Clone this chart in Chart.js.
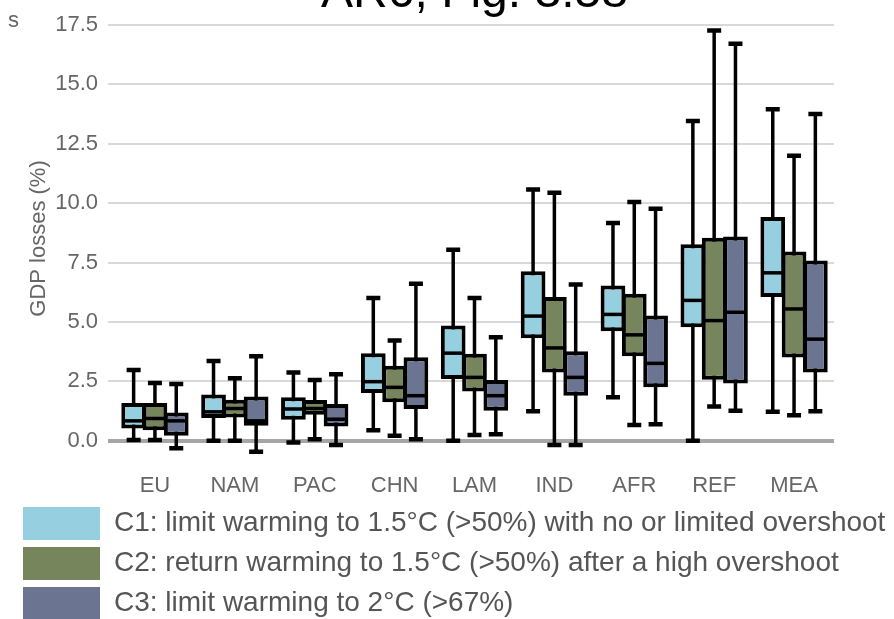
<!DOCTYPE html>
<html>
<head>
<meta charset="utf-8">
<title>GDP losses by region</title>
<script src="https://cdn.jsdelivr.net/npm/chart.js@4.4.0/dist/chart.umd.min.js"></script>
<style>
  html, body { margin: 0; padding: 0; background: #fff; overflow: hidden; }
  #wrap { position: relative; width: 894px; height: 630px; }
</style>
</head>
<body>
<div id="wrap"><canvas id="boxChart" width="894" height="630"></canvas></div>
<script>
var regions = ['EU', 'NAM', 'PAC', 'CHN', 'LAM', 'IND', 'AFR', 'REF', 'MEA'];
var yTicks = [0, 2.5, 5, 7.5, 10, 12.5, 15, 17.5];

var seriesNames = [
    'C1: limit warming to 1.5°C (>50%) with no or limited overshoot',
    'C2: return warming to 1.5°C (>50%) after a high overshoot',
    'C3: limit warming to 2°C (>67%)'
];
var seriesColors = ['#96cfdf', '#76855b', '#6b7592'];

// C1
var c1Min = [0.03, 0.0, -0.07, 0.45, 0.0, 1.24, 1.83, 0.0, 1.22];
var c1Q1  = [0.52, 0.96, 0.89, 2.01, 2.60, 4.32, 4.61, 4.78, 6.05];
var c1Med = [0.84, 1.22, 1.34, 2.49, 3.69, 5.25, 5.32, 5.91, 7.07];
var c1Q3  = [1.59, 1.95, 1.83, 3.69, 4.85, 7.14, 6.54, 8.27, 9.42];
var c1Max = [2.98, 3.36, 2.88, 6.01, 8.04, 10.58, 9.17, 13.46, 13.95];

// C2
var c2Min = [0.03, 0.0, 0.07, 0.21, 0.25, -0.18, 0.67, 1.45, 1.08];
var c2Q1  = [0.45, 0.98, 1.10, 1.62, 2.08, 2.88, 3.56, 2.57, 3.51];
var c2Med = [0.94, 1.36, 1.36, 2.25, 2.67, 3.91, 4.46, 5.06, 5.55];
var c2Q3  = [1.59, 1.73, 1.72, 3.16, 3.66, 6.05, 6.19, 8.55, 7.97];
var c2Max = [2.43, 2.63, 2.56, 4.22, 6.01, 10.44, 10.05, 17.27, 12.0];

// C3
var c3Min = [-0.31, -0.46, -0.18, 0.07, 0.28, -0.18, 0.70, 1.27, 1.24];
var c3Q1  = [0.21, 0.63, 0.60, 1.34, 1.27, 1.90, 2.25, 2.41, 2.88];
var c3Med = [0.84, 0.84, 0.91, 1.90, 1.90, 2.67, 3.26, 5.41, 4.28];
var c3Q3  = [1.19, 1.87, 1.55, 3.52, 2.56, 3.77, 5.27, 8.60, 7.59];
var c3Max = [2.39, 3.56, 2.80, 6.61, 4.36, 6.58, 9.77, 16.71, 13.75];

var stats = [
    {min: c1Min, q1: c1Q1, med: c1Med, q3: c1Q3, max: c1Max},
    {min: c2Min, q1: c2Q1, med: c2Med, q3: c2Q3, max: c2Max},
    {min: c3Min, q1: c3Q1, med: c3Med, q3: c3Q3, max: c3Max}
];

var labelFont = "'Liberation Sans', Arial, sans-serif";

// whiskers go under the boxes, medians on top of them
var boxPlotPlugin = {
    id: 'boxPlot',
    beforeDatasetsDraw: function(chart) {
        var ctx = chart.ctx;
        var y = chart.scales.y;
        ctx.save();
        ctx.strokeStyle = '#000';
        stats.forEach(function(s, d) {
            chart.getDatasetMeta(d).data.forEach(function(bar, i) {
                var top = y.getPixelForValue(s.max[i]);
                var bot = y.getPixelForValue(s.min[i]);
                ctx.lineWidth = 3.5;
                ctx.beginPath();
                ctx.moveTo(bar.x, top);
                ctx.lineTo(bar.x, bot);
                ctx.stroke();
                ctx.lineWidth = 4.5;
                ctx.beginPath();
                ctx.moveTo(bar.x - 7, top);
                ctx.lineTo(bar.x + 7, top);
                ctx.moveTo(bar.x - 7, bot);
                ctx.lineTo(bar.x + 7, bot);
                ctx.stroke();
            });
        });
        ctx.restore();
    },
    afterDatasetsDraw: function(chart) {
        var ctx = chart.ctx;
        var y = chart.scales.y;
        ctx.save();
        ctx.strokeStyle = '#000';
        ctx.lineWidth = 3.5;
        stats.forEach(function(s, d) {
            chart.getDatasetMeta(d).data.forEach(function(bar, i) {
                var m = y.getPixelForValue(s.med[i]);
                ctx.beginPath();
                ctx.moveTo(bar.x - bar.width / 2 + 1, m);
                ctx.lineTo(bar.x + bar.width / 2 - 1, m);
                ctx.stroke();
            });
        });
        ctx.restore();
    },
    afterDraw: function(chart) {
        // title cut off by the top edge, as in the source figure
        var ctx = chart.ctx;
        var area = chart.chartArea;
        ctx.save();
        ctx.fillStyle = '#000';
        ctx.font = '48px ' + labelFont;
        ctx.textAlign = 'center';
        ctx.textBaseline = 'alphabetic';
        ctx.fillText('AR6, Fig. 3.58', (area.left + area.right) / 2, 7);
        ctx.fillStyle = '#666';
        ctx.font = '22px ' + labelFont;
        ctx.textAlign = 'right';
        ctx.fillText('s', 19, 27);
        ctx.restore();
    }
};

var datasets = stats.map(function(s, d) {
    return {
        label: seriesNames[d],
        data: regions.map(function(r, i) { return [s.q1[i], s.q3[i]]; }),
        backgroundColor: seriesColors[d],
        borderColor: '#000',
        borderWidth: 4,
        borderSkipped: false,
        categoryPercentage: 0.8,
        barPercentage: 1.16
    };
});

new Chart(document.getElementById('boxChart'), {
    type: 'bar',
    data: { labels: regions, datasets: datasets },
    plugins: [boxPlotPlugin],
    options: {
        responsive: false,
        animation: false,
        layout: { padding: { left: 16, right: 0, top: 25, bottom: 0 } },
        plugins: {
            tooltip: { enabled: false },
            legend: {
                position: 'bottom',
                align: 'start',
                labels: {
                    boxWidth: 77,
                    boxHeight: 33,
                    padding: 7,
                    color: '#555',
                    font: { family: labelFont, size: 28 },
                    generateLabels: function(chart) {
                        return chart.data.datasets.map(function(ds, i) {
                            return {
                                text: ds.label,
                                fillStyle: ds.backgroundColor,
                                strokeStyle: ds.backgroundColor,
                                lineWidth: 0,
                                hidden: false,
                                datasetIndex: i,
                                fontColor: '#555'
                            };
                        });
                    }
                }
            }
        },
        scales: {
            x: {
                grid: { display: false },
                border: { display: false },
                ticks: { color: '#666', padding: 13, font: { family: labelFont, size: 22 } },
                afterFit: function(scale) { scale.height = 48; }
            },
            y: {
                min: -0.47,
                max: 17.5,
                afterBuildTicks: function(scale) {
                    scale.ticks = yTicks.map(function(v) { return { value: v }; });
                },
                ticks: {
                    color: '#666',
                    padding: 10,
                    font: { family: labelFont, size: 22 },
                    callback: function(v) { return Number(v).toFixed(1); }
                },
                grid: {
                    color: function(c) { return c.tick && c.tick.value === 0 ? '#a6a6a6' : '#d9d9d9'; },
                    lineWidth: function(c) { return c.tick && c.tick.value === 0 ? 4 : 2; },
                    tickLength: 7
                },
                border: { display: false },
                title: {
                    display: true,
                    text: 'GDP losses (%)',
                    color: '#666',
                    font: { family: labelFont, size: 22 },
                    padding: { top: 10, bottom: 0 }
                },
                afterFit: function(scale) { scale.width = 99; }
            },
            // empty right axis: keeps the plot area narrower than the legend
            yRight: {
                position: 'right',
                display: true,
                grid: { display: false },
                border: { display: false },
                ticks: { display: false },
                afterFit: function(scale) { scale.width = 60; }
            }
        }
    }
});
</script>
</body>
</html>
